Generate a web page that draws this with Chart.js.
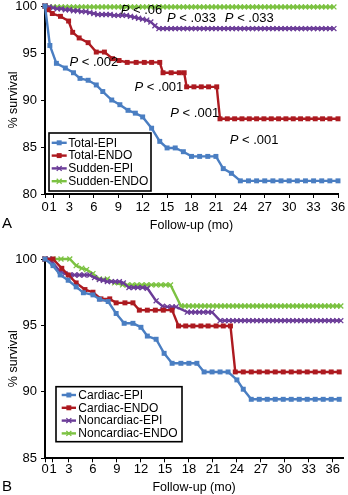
<!DOCTYPE html>
<html>
<head>
<meta charset="utf-8">
<script src="https://cdn.jsdelivr.net/npm/chart.js@4.4.1/dist/chart.umd.min.js"></script>
<style>
  html, body { margin: 0; padding: 0; background: #fff; }
  body { width: 348px; height: 495px; position: relative; overflow: hidden; }
  .panel { position: absolute; left: 0; width: 348px; }
  #panelA { top: 0; height: 240px; }
  #panelB { top: 245px; height: 250px; }
</style>
</head>
<body>
<div class="panel" id="panelA"><canvas id="chartA"></canvas></div>
<div class="panel" id="panelB"><canvas id="chartB"></canvas></div>
<script>
const monthTicks = [0, 1, 3, 6, 9, 12, 15, 18, 21, 24, 27, 30, 33, 36];

// Panel A: total and sudden death survival
const totalEpiMonths = [0, 0.6, 1.4, 2.5, 3.5, 4.3, 5.3, 6.3, 7.1, 8.2,
  9.2, 10.2, 11.1, 12, 13.1, 14.1, 15, 16, 17, 18,
  19, 20, 21, 21.9, 22.9, 24, 25, 26, 27, 28,
  29, 30, 31, 32, 33, 34, 35, 36];
const totalEpi = [100, 95.8, 93.9, 93.4, 92.9, 92.3, 92.1, 91.6, 90.9, 90.0,
  89.5, 88.9, 88.6, 88.2, 87.0, 85.6, 84.9, 84.9, 84.5, 84.0,
  84.0, 84.0, 84.0, 82.7, 82.2, 81.4, 81.4, 81.4, 81.4, 81.4,
  81.4, 81.4, 81.4, 81.4, 81.4, 81.4, 81.4, 81.4];

const totalEndoMonths = [0, 0.4, 0.9, 1.9, 2.9, 3.4, 4.2, 5.3, 6.3, 7.3,
  8.3, 9.1, 10.1, 11.2, 12.2, 13.1, 14.1, 14.5, 15.5, 16.5,
  17.1, 17.4, 18.3, 19.2, 20.1, 21.1, 21.5, 22.4, 23.3, 24.2,
  25.1, 26, 26.9, 27.8, 28.7, 29.6, 30.5, 31.4, 32.3, 33.2,
  34.1, 35, 36];
const totalEndo = [100, 99.6, 99.2, 98.9, 98.4, 97.2, 96.6, 96.1, 95.1, 95.1,
  94.4, 94.2, 94.0, 94.0, 94.0, 94.0, 94.0, 92.9, 92.9, 92.9,
  92.9, 91.4, 91.4, 91.4, 91.4, 91.4, 88.0, 88.0, 88.0, 88.0,
  88.0, 88.0, 88.0, 88.0, 88.0, 88.0, 88.0, 88.0, 88.0, 88.0,
  88.0, 88.0, 88.0];

const suddenMonths = [0, 0.5, 1, 1.5, 2, 2.5, 3, 3.5, 4, 4.5,
  5, 5.5, 6, 6.5, 7, 7.5, 8, 8.5, 9, 9.5,
  10, 10.5, 11, 11.5, 12, 12.5, 13, 13.5, 14, 14.5,
  15, 15.5, 16, 16.5, 17, 17.5, 18, 18.5, 19, 19.5,
  20, 20.5, 21, 21.5, 22, 22.5, 23, 23.5, 24, 24.5,
  25, 25.5, 26, 26.5, 27, 27.5, 28, 28.5, 29, 29.5,
  30, 30.5, 31, 31.5, 32, 32.5, 33, 33.5, 34, 34.5,
  35, 35.5];
const suddenEpi = [100, 99.9, 99.8, 99.7, 99.7, 99.6, 99.6, 99.5, 99.5, 99.4,
  99.4, 99.3, 99.2, 99.1, 99.1, 99.1, 99.1, 99.0, 99.0, 99.0,
  99.0, 98.9, 98.8, 98.7, 98.6, 98.5, 98.3, 97.9, 97.6, 97.6,
  97.6, 97.6, 97.6, 97.6, 97.6, 97.6, 97.6, 97.6, 97.6, 97.6,
  97.6, 97.6, 97.6, 97.6, 97.6, 97.6, 97.6, 97.6, 97.6, 97.6,
  97.6, 97.6, 97.6, 97.6, 97.6, 97.6, 97.6, 97.6, 97.6, 97.6,
  97.6, 97.6, 97.6, 97.6, 97.6, 97.6, 97.6, 97.6, 97.6, 97.6,
  97.6, 97.6];
const suddenEndo = [100, 99.9, 99.9, 99.9, 99.9, 99.9, 99.9, 99.9, 99.9, 99.9,
  99.9, 99.9, 99.9, 99.9, 99.9, 99.9, 99.9, 99.9, 99.9, 99.9,
  99.9, 99.9, 99.9, 99.9, 99.9, 99.9, 99.9, 99.9, 99.9, 99.9,
  99.9, 99.9, 99.9, 99.9, 99.9, 99.9, 99.9, 99.9, 99.9, 99.9,
  99.9, 99.9, 99.9, 99.9, 99.9, 99.9, 99.9, 99.9, 99.9, 99.9,
  99.9, 99.9, 99.9, 99.9, 99.9, 99.9, 99.9, 99.9, 99.9, 99.9,
  99.9, 99.9, 99.9, 99.9, 99.9, 99.9, 99.9, 99.9, 99.9, 99.9,
  99.9, 99.9];

const pValuesA = ['.06', '.033', '.033', '.002', '.001', '.001', '.001'];

// Panel B: cardiac and noncardiac death survival
const cardiacEpiMonths = [0, 1, 1.9, 2.9, 3.9, 4.8, 6, 6.8, 7.9, 8.9,
  9.9, 11, 12, 12.8, 13.9, 14.9, 15.9, 17, 18, 19,
  19.9, 20.9, 21.9, 22.9, 24, 24.8, 25.8, 26.8, 27.8, 28.8,
  29.8, 30.8, 31.8, 32.8, 33.8, 34.8, 35.8, 36.8];
const cardiacEpi = [100, 99.5, 98.8, 98.4, 97.9, 97.46, 97.3, 96.97, 96.8, 95.9,
  95.16, 95.16, 94.86, 94.2, 93.96, 92.9, 92.15, 92.15, 92.15, 92.15,
  91.5, 91.5, 91.5, 91.5, 90.9, 90.2, 89.44, 89.44, 89.44, 89.44,
  89.44, 89.44, 89.44, 89.44, 89.44, 89.44, 89.44, 89.44];

const cardiacEndoMonths = [0, 1, 2.1, 2.9, 3.9, 5, 6, 7, 8.1, 8.9,
  10, 11, 11.8, 12.8, 13.8, 14.8, 15.9, 16.7, 17.6, 18.5,
  19.5, 20.4, 21.4, 22.3, 23.2, 23.8, 24.8, 25.8, 26.8, 27.8,
  28.8, 29.8, 30.8, 31.8, 32.8, 33.8, 34.8, 35.8, 36.8];
const cardiacEndo = [100, 100, 99.3, 98.8, 98.2, 97.7, 97.5, 97.0, 97.0, 96.7,
  96.7, 96.7, 96.15, 96.15, 96.15, 96.15, 96.15, 94.96, 94.96, 94.96,
  94.96, 94.96, 94.96, 94.96, 94.96, 91.5, 91.5, 91.5, 91.5, 91.5,
  91.5, 91.5, 91.5, 91.5, 91.5, 91.5, 91.5, 91.5, 91.5];

const noncardiacEpiMonths = [0, 0.5, 1, 1.9, 2.5, 3.1, 3.7, 4.3, 4.9, 5.6,
  6.2, 6.8, 7.3, 7.8, 8.3, 8.8, 9.3, 9.8, 10.5, 11.1,
  11.6, 12.2, 12.8, 13.9, 14.7, 15.3, 15.9, 16.4, 17.8, 18.3,
  18.8, 19.3, 19.8, 20.4, 20.9, 21.9,
  22.5, 23, 23.5, 24, 24.5, 25, 25.5, 26, 26.5, 27,
  27.5, 28, 28.5, 29, 29.5, 30, 30.5, 31, 31.5, 32,
  32.5, 33, 33.5, 34, 34.5, 35, 35.5, 36, 36.5, 37];
const noncardiacEpi = [100, 100, 99.7, 99.05, 98.9, 98.8, 98.8, 98.8, 98.8, 98.8,
  98.6, 98.45, 98.4, 98.3, 98.3, 98.3, 98.3, 98.2, 97.85, 97.85,
  97.85, 97.85, 97.8, 96.85, 96.45, 96.4, 96.4, 96.4, 96.0, 96.0,
  96.0, 96.0, 96.0, 96.0, 96.0, 95.36,
  95.36, 95.36, 95.36, 95.36, 95.36, 95.36, 95.36, 95.36, 95.36, 95.36,
  95.36, 95.36, 95.36, 95.36, 95.36, 95.36, 95.36, 95.36, 95.36, 95.36,
  95.36, 95.36, 95.36, 95.36, 95.36, 95.36, 95.36, 95.36, 95.36, 95.36];

const noncardiacEndoMonths = [0, 1, 2, 3.1, 3.9, 4.6, 5.2, 6, 6.8, 7.8,
  8.7, 9.7, 10.3, 10.9, 11.5, 12.1, 12.7, 13.3, 13.9, 14.5,
  15.1, 15.7,
  17, 17.5, 18, 18.5, 19, 19.5, 20, 20.5, 21, 21.5,
  22, 22.5, 23, 23.5, 24, 24.5, 25, 25.5, 26, 26.5,
  27, 27.5, 28, 28.5, 29, 29.5, 30, 30.5, 31, 31.5,
  32, 32.5, 33, 33.5, 34, 34.5, 35, 35.5, 36, 36.5,
  37];
const noncardiacEndo = [100, 100, 100, 100, 99.5, 99.3, 99.2, 98.9, 98.5, 98.5,
  98.2, 98.05, 98.05, 98.05, 98.05, 98.05, 98.05, 98.05, 98.05, 98.05,
  98.05, 98.05,
  96.46, 96.46, 96.46, 96.46, 96.46, 96.46, 96.46, 96.46, 96.46, 96.46,
  96.46, 96.46, 96.46, 96.46, 96.46, 96.46, 96.46, 96.46, 96.46, 96.46,
  96.46, 96.46, 96.46, 96.46, 96.46, 96.46, 96.46, 96.46, 96.46, 96.46,
  96.46, 96.46, 96.46, 96.46, 96.46, 96.46, 96.46, 96.46, 96.46, 96.46,
  96.46];

const FONT = "'Liberation Sans', Arial, Helvetica, sans-serif";
const BLUE = '#4a7ec2';
const RED = '#ad1a20';
const PURPLE = '#6b3c98';
const GREEN = '#7cc242';

function toPoints(months, values) {
  return months.map((m, i) => ({ x: m, y: values[i] }));
}

function series(label, months, values, color, square) {
  return {
    label,
    data: toPoints(months, values),
    borderColor: color,
    backgroundColor: color,
    borderWidth: 2.4,
    pointStyle: square ? 'rect' : 'crossRot',
    pointRadius: 3.5,
    pointBorderWidth: square ? 0 : 1.3,
    pointBackgroundColor: color,
    pointBorderColor: color,
    pointHoverRadius: 0,
    tension: 0,
    clip: false
  };
}

function drawMarker(ctx, ds, x, y) {
  ctx.fillStyle = ds.borderColor;
  ctx.strokeStyle = ds.borderColor;
  ctx.lineWidth = ds.pointBorderWidth;
  if (Chart.helpers && Chart.helpers.drawPoint) {
    Chart.helpers.drawPoint(ctx, {
      pointStyle: ds.pointStyle, radius: ds.pointRadius,
      borderWidth: ds.pointBorderWidth, rotation: 0
    }, x, y);
    return;
  }
  const r = ds.pointRadius * Math.SQRT1_2;
  if (ds.pointStyle === 'rect') {
    ctx.fillRect(x - r, y - r, 2 * r, 2 * r);
  } else {
    ctx.beginPath();
    ctx.moveTo(x - r, y - r); ctx.lineTo(x + r, y + r);
    ctx.moveTo(x - r, y + r); ctx.lineTo(x + r, y - r);
    ctx.stroke();
  }
}

// boxed legend sitting in the lower left of the plot
const boxLegend = {
  id: 'boxLegend',
  afterDatasetsDraw(chart, args, opts) {
    const { ctx, chartArea } = chart;
    const sets = chart.data.datasets;
    const x0 = chartArea.left + opts.offsetX;
    const h = opts.rowHeight * sets.length + opts.pad * 2;
    const y0 = chartArea.bottom - opts.offsetY - h;
    ctx.save();
    ctx.fillStyle = '#fff';
    ctx.fillRect(x0, y0, opts.width, h);
    ctx.strokeStyle = '#000';
    ctx.lineWidth = 1.6;
    ctx.strokeRect(x0, y0, opts.width, h);
    ctx.textBaseline = 'middle';
    ctx.textAlign = 'left';
    sets.forEach((ds, i) => {
      const y = y0 + opts.pad + opts.rowHeight * (i + 0.5);
      const lx = x0 + opts.lineStart;
      ctx.strokeStyle = ds.borderColor;
      ctx.lineWidth = 2.4;
      ctx.beginPath();
      ctx.moveTo(lx, y);
      ctx.lineTo(lx + opts.lineLen, y);
      ctx.stroke();
      drawMarker(ctx, ds, lx + opts.lineLen / 2, y);
      ctx.fillStyle = '#000';
      ctx.font = opts.fontSize + 'px ' + FONT;
      ctx.fillText(ds.label, x0 + opts.textX, y + 0.5);
    });
    ctx.restore();
  }
};

// P value notes placed in data coordinates, and the panel letter
const notes = {
  id: 'notes',
  afterDatasetsDraw(chart, args, opts) {
    const { ctx, scales } = chart;
    ctx.save();
    ctx.fillStyle = '#000';
    ctx.textBaseline = 'middle';
    ctx.textAlign = 'left';
    (opts.items || []).forEach((n, i) => {
      let px = scales.x.getPixelForValue(n.month);
      const py = scales.y.getPixelForValue(n.value);
      ctx.font = 'italic ' + opts.fontSize + 'px ' + FONT;
      ctx.fillText('P', px, py);
      px += ctx.measureText('P').width;
      ctx.font = opts.fontSize + 'px ' + FONT;
      ctx.fillText(' < ' + opts.values[i], px, py);
    });
    ctx.font = '15px ' + FONT;
    ctx.fillText(opts.letter, opts.letterX, opts.letterY);
    ctx.restore();
  }
};

function yAxis(min) {
  return {
    type: 'linear',
    min: min,
    max: 100,
    afterFit: s => {
      s.width = 45;
      // let layout.padding alone decide the plot's top edge
      s.paddingTop = 0;
      s.paddingBottom = 0;
    },
    ticks: { stepSize: 5, color: '#000', padding: 4, font: { family: FONT, size: 13, lineHeight: 1 } },
    grid: { drawOnChartArea: false, drawTicks: true, tickLength: 4, color: '#000', lineWidth: 1 },
    border: { display: true, color: '#000', width: 2 },
    title: {
      display: true, text: '% survival', color: '#000',
      font: { family: FONT, size: 12.5 }, padding: { top: 6, bottom: 0 }
    }
  };
}

function xAxis(max, height, tickPad, titlePad) {
  return {
    type: 'linear',
    min: 0,
    max: max,
    afterBuildTicks: s => { s.ticks = monthTicks.map(v => ({ value: v })); },
    afterFit: s => { s.height = height; },
    ticks: {
      autoSkip: false, maxRotation: 0, color: '#000', padding: tickPad,
      font: { family: FONT, size: 13, lineHeight: 1 }
    },
    grid: { drawOnChartArea: false, drawTicks: true, tickLength: 4, color: '#000', lineWidth: 1 },
    border: { display: true, color: '#000', width: 2 },
    title: {
      display: true, text: 'Follow-up (mo)', color: '#000',
      font: { family: FONT, size: 12.5 }, padding: { top: 0, bottom: titlePad }
    }
  };
}

new Chart(document.getElementById('chartA'), {
  type: 'line',
  data: {
    datasets: [
      series('Total-EPI', totalEpiMonths, totalEpi, BLUE, true),
      series('Total-ENDO', totalEndoMonths, totalEndo, RED, true),
      series('Sudden-EPI', suddenMonths, suddenEpi, PURPLE, false),
      series('Sudden-ENDO', suddenMonths, suddenEndo, GREEN, false)
    ]
  },
  options: {
    responsive: true,
    maintainAspectRatio: false,
    animation: false,
    events: [],
    layout: { padding: { top: 6, right: 10, left: 0, bottom: 0 } },
    scales: { x: xAxis(36, 46, 2.5, 7), y: yAxis(80) },
    plugins: {
      legend: { display: false },
      tooltip: { enabled: false },
      boxLegend: { offsetX: 4, offsetY: 3, width: 102, rowHeight: 12.8, pad: 3.4, lineStart: 2.7, lineLen: 15, textX: 19.3, fontSize: 12 },
      notes: {
        fontSize: 13,
        values: pValuesA,
        items: [
          { month: 9.3, value: 99.5 },
          { month: 15.0, value: 98.7 },
          { month: 22.1, value: 98.7 },
          { month: 3.0, value: 94.0 },
          { month: 11.0, value: 91.3 },
          { month: 15.4, value: 88.6 },
          { month: 22.7, value: 85.7 }
        ],
        letter: 'A', letterX: 2, letterY: 224
      }
    }
  },
  plugins: [boxLegend, notes]
});

new Chart(document.getElementById('chartB'), {
  type: 'line',
  data: {
    datasets: [
      series('Cardiac-EPI', cardiacEpiMonths, cardiacEpi, BLUE, true),
      series('Cardiac-ENDO', cardiacEndoMonths, cardiacEndo, RED, true),
      series('Noncardiac-EPI', noncardiacEpiMonths, noncardiacEpi, PURPLE, false),
      series('Noncardiac-ENDO', noncardiacEndoMonths, noncardiacEndo, GREEN, false)
    ]
  },
  options: {
    responsive: true,
    maintainAspectRatio: false,
    animation: false,
    events: [],
    layout: { padding: { top: 14, right: 2, left: 0, bottom: 0 } },
    scales: { x: xAxis(37.3, 36.7, 1, 0), y: yAxis(85) },
    plugins: {
      legend: { display: false },
      tooltip: { enabled: false },
      boxLegend: { offsetX: 11, offsetY: 16.6, width: 126, rowHeight: 12.8, pad: 1.9, lineStart: 5.7, lineLen: 14.3, textX: 22.3, fontSize: 12 },
      notes: { fontSize: 13, values: [], items: [], letter: 'B', letterX: 2, letterY: 241.7 }
    }
  },
  plugins: [boxLegend, notes]
});
</script>
</body>
</html>
